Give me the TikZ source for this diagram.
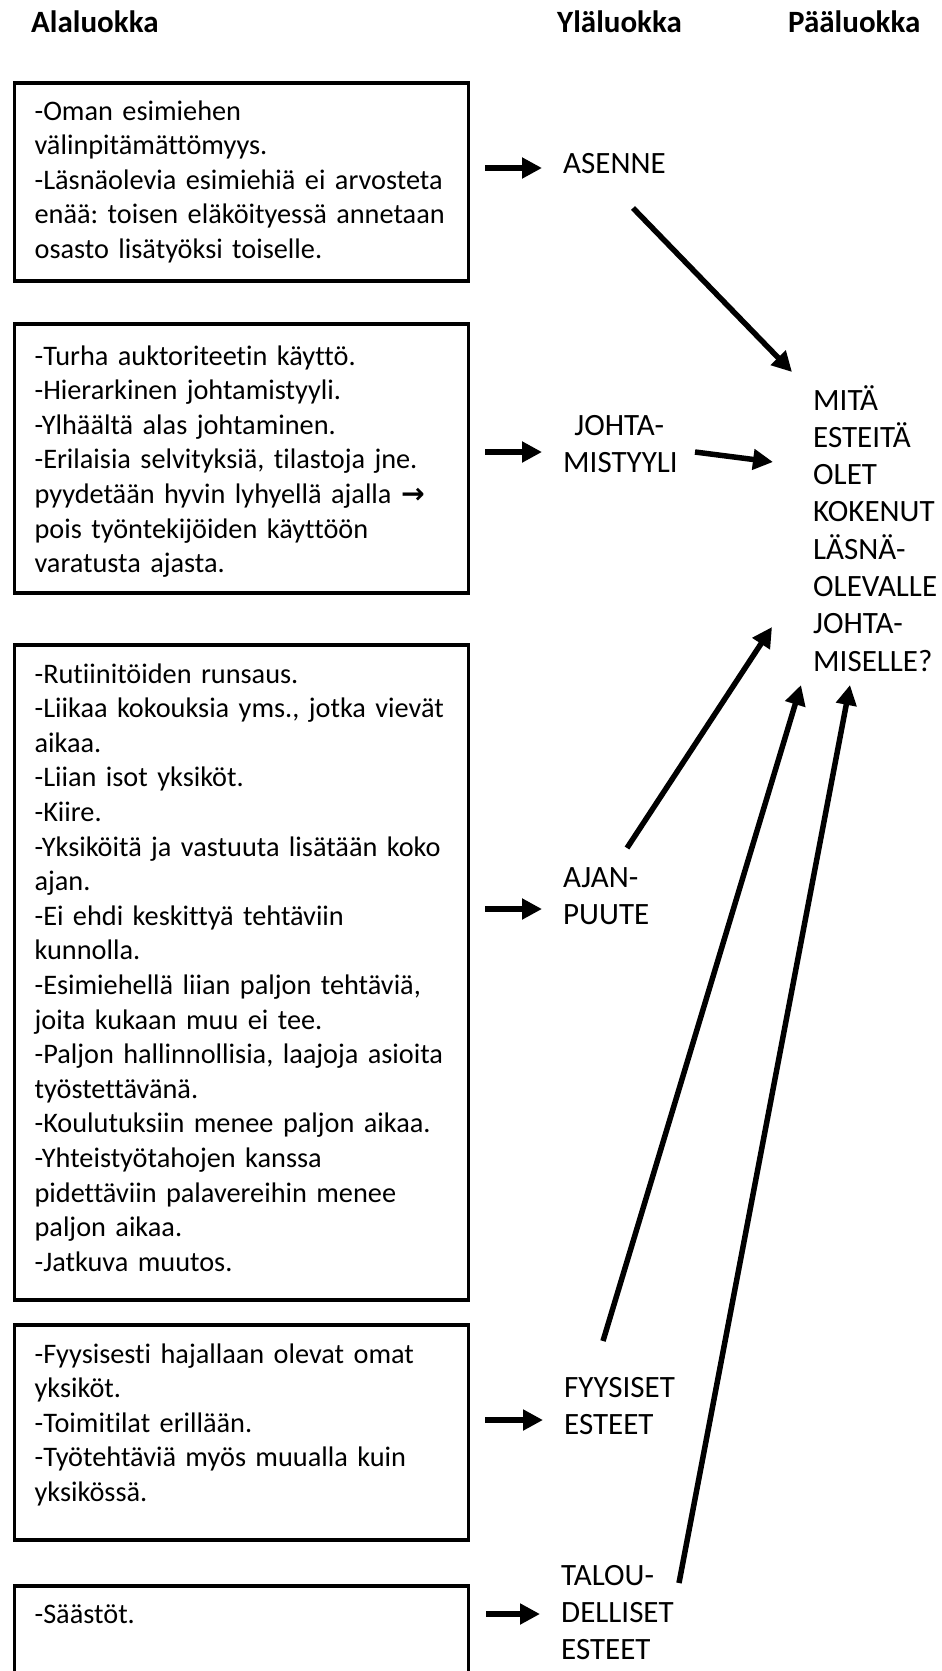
\documentclass[tikz,border=0pt]{standalone}
\usepackage{fontspec}
\setmainfont{Carlito}[Ligatures={NoCommon}]
\newfontfamily\arrowfont{DejaVu Sans}
\usetikzlibrary{arrows.meta}
\frenchspacing

\begin{document}
\begin{tikzpicture}[x=1pt,y=-1pt,
  otsikko/.style={anchor=base west,inner sep=0pt,font=\fontsize{31}{36}\selectfont\bfseries},
  ala/.style={draw,line width=3.2pt,anchor=base west,text width=414pt,inner xsep=20pt,inner ysep=0pt,align=left,font=\fontsize{28.3}{34.6}\selectfont},
  yla/.style={anchor=base west,inner sep=0pt,text width=130pt,align=left,font=\fontsize{31}{37.3}\selectfont},
  nuoli/.style={line width=5.5pt,-{Triangle[length=20pt,width=20pt]}},
  syotto/.style={nuoli,shorten >=21pt}]
  \clip (0,0) rectangle (942,1671);

  \node[otsikko] (h-ala) at (31,32) {Alaluokka};
  \node[otsikko] (h-yla) at (557,32) {Yläluokka};
  \node[otsikko] (h-paa) at (788,32) {Pääluokka};

  \node[ala,text height=37pt,text depth=161pt] (ala1) at (13,120)
    {-Oman esimiehen\\välinpitämättömyys.\\-Läsnäolevia esimiehiä ei arvosteta\\enää: toisen eläköityessä annetaan\\osasto lisätyöksi toiselle.};
  \node[ala,text height=41pt,text depth=228pt] (ala2) at (13,365)
    {-Turha auktoriteetin käyttö.\\-Hierarkinen johtamistyyli.\\-Ylhäältä alas johtaminen.\\-Erilaisia selvityksiä, tilastoja jne.\\pyydetään hyvin lyhyellä ajalla {\arrowfont\bfseries →}\\pois työntekijöiden käyttöön\\varatusta ajasta.};
  \node[ala,text height=38pt,text depth=617pt] (ala3) at (13,683)
    {-Rutiinitöiden runsaus.\\-Liikaa kokouksia yms., jotka vievät\\aikaa.\\-Liian isot yksiköt.\\-Kiire.\\-Yksiköitä ja vastuuta lisätään koko\\ajan.\\-Ei ehdi keskittyä tehtäviin\\kunnolla.\\-Esimiehellä liian paljon tehtäviä,\\joita kukaan muu ei tee.\\-Paljon hallinnollisia, laajoja asioita\\työstettävänä.\\-Koulutuksiin menee paljon aikaa.\\-Yhteistyötahojen kanssa\\pidettäviin palavereihin menee\\paljon aikaa.\\-Jatkuva muutos.};
  \node[ala,text height=38pt,text depth=177pt] (ala4) at (13,1363)
    {-Fyysisesti hajallaan olevat omat\\yksiköt.\\-Toimitilat erillään.\\-Työtehtäviä myös muualla kuin\\yksikössä.};
  \node[ala,text height=37pt,text depth=140pt] (ala5) at (13,1623) {-Säästöt.};

  \node[yla] (asenne) at (563,173) {ASENNE};
  \node[yla,text width=112pt,align=center] (johta) at (563,435) {JOHTA-\\MISTYYLI};
  \node[yla] (ajan) at (563,887) {AJAN-\\PUUTE};
  \node[yla] (fyys) at (564,1397) {FYYSISET\\ESTEET};
  \node[yla] (talou) at (561,1585) {TALOU-\\DELLISET\\ESTEET};
  \node[yla,text width=125pt] (paa) at (813,410) {MITÄ\\ESTEITÄ\\OLET\\KOKENUT\\LÄSNÄ-\\OLEVALLE\\JOHTA-\\MISELLE?};

  \coordinate (k1) at (485,168);
  \coordinate (k2) at (485,452);
  \coordinate (k3) at (485,909);
  \coordinate (k4) at (485,1420);
  \coordinate (k5) at (486,1614);
  \draw[syotto] (k1) -- (k1 -| asenne.west);
  \draw[syotto] (k2) -- (k2 -| johta.west);
  \draw[syotto] (k3) -- (k3 -| ajan.west);
  \draw[syotto] (k4) -- (k4 -| fyys.west);
  \draw[syotto] (k5) -- (k5 -| talou.west);

  \draw[nuoli] ([xshift=70pt,yshift=-35pt]asenne.base west) -- ([xshift=-21pt,yshift=38pt]paa.base west);
  \draw[nuoli] ([xshift=132pt,yshift=-17pt]johta.base west) -- ([xshift=-40pt,yshift=-52pt]paa.base west);
  \draw[nuoli] ([xshift=64pt,yshift=39pt]ajan.base west) -- ([xshift=-41pt,yshift=-217pt]paa.base west);
  \draw[nuoli] ([xshift=39pt,yshift=56pt]fyys.base west) -- ([xshift=-12pt,yshift=-275pt]paa.base west);
  \draw[nuoli] ([xshift=118pt,yshift=2pt]talou.base west) -- ([xshift=37pt,yshift=-275pt]paa.base west);
\end{tikzpicture}
\end{document}
